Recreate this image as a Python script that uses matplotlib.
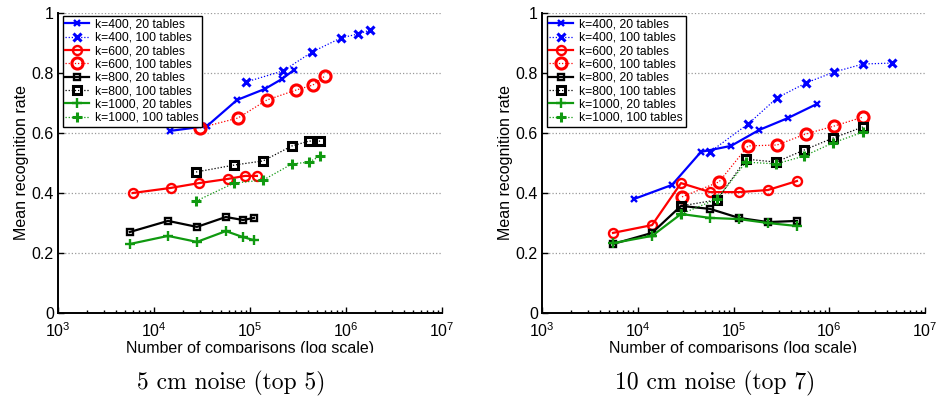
import matplotlib
matplotlib.use("Agg")
from matplotlib import pyplot as plt
from matplotlib.patches import Rectangle
from matplotlib.ticker import LogLocator, NullFormatter

plt.rcParams['font.family'] = ['Liberation Sans', 'DejaVu Sans']

# 5 cm noise (top 5)
l400_20_x = [1.47e4, 3.56e4, 7.32e4, 1.43e5, 2.15e5, 2.87e5]
l400_20_y = [0.607, 0.623, 0.71, 0.747, 0.78, 0.81]
l400_100_x = [9.08e4, 2.21e5, 4.43e5, 8.87e5, 1.33e6, 1.78e6]
l400_100_y = [0.77, 0.807, 0.87, 0.917, 0.93, 0.943]
l600_20_x = [6.0e3, 1.5e4, 2.94e4, 5.9e4, 8.87e4, 1.18e5]
l600_20_y = [0.40, 0.417, 0.433, 0.447, 0.457, 0.457]
l600_100_x = [3.01e4, 7.5e4, 1.5e5, 3.01e5, 4.53e5, 6.03e5]
l600_100_y = [0.617, 0.65, 0.71, 0.743, 0.76, 0.79]
l800_20_x = [5.6e3, 1.4e4, 2.8e4, 5.6e4, 8.45e4, 1.1e5]
l800_20_y = [0.27, 0.307, 0.287, 0.32, 0.31, 0.317]
l800_100_x = [2.74e4, 6.81e4, 1.37e5, 2.74e5, 4.12e5, 5.37e5]
l800_100_y = [0.47, 0.493, 0.507, 0.557, 0.573, 0.573]
l1000_20_x = [5.6e3, 1.4e4, 2.8e4, 5.6e4, 8.45e4, 1.1e5]
l1000_20_y = [0.23, 0.257, 0.237, 0.273, 0.253, 0.243]
l1000_100_x = [2.74e4, 6.81e4, 1.37e5, 2.74e5, 4.12e5, 5.37e5]
l1000_100_y = [0.373, 0.433, 0.443, 0.497, 0.503, 0.523]

# 10 cm noise (top 7)
r400_20_x = [9.14e3, 2.28e4, 4.57e4, 9.42e4, 1.85e5, 3.71e5, 7.45e5]
r400_20_y = [0.38, 0.427, 0.537, 0.557, 0.61, 0.65, 0.697]
r400_100_x = [5.69e4, 1.42e5, 2.85e5, 5.72e5, 1.12e6, 2.25e6, 4.52e6]
r400_100_y = [0.537, 0.63, 0.717, 0.767, 0.803, 0.83, 0.833]
r600_20_x = [5.52e3, 1.41e4, 2.83e4, 5.69e4, 1.14e5, 2.29e5, 4.6e5]
r600_20_y = [0.267, 0.293, 0.433, 0.403, 0.403, 0.41, 0.44]
r600_100_x = [2.9e4, 7.06e4, 1.42e5, 2.85e5, 5.72e5, 1.12e6, 2.25e6]
r600_100_y = [0.387, 0.437, 0.557, 0.56, 0.597, 0.623, 0.653]
r800_20_x = [5.52e3, 1.41e4, 2.83e4, 5.69e4, 1.14e5, 2.29e5, 4.6e5]
r800_20_y = [0.23, 0.267, 0.357, 0.347, 0.317, 0.303, 0.307]
r800_100_x = [2.83e4, 6.73e4, 1.35e5, 2.78e5, 5.45e5, 1.09e6, 2.25e6]
r800_100_y = [0.357, 0.377, 0.513, 0.503, 0.543, 0.583, 0.62]
r1000_20_x = [5.52e3, 1.41e4, 2.83e4, 5.69e4, 1.14e5, 2.29e5, 4.6e5]
r1000_20_y = [0.233, 0.257, 0.33, 0.317, 0.313, 0.30, 0.29]
r1000_100_x = [2.83e4, 6.73e4, 1.35e5, 2.78e5, 5.45e5, 1.09e6, 2.25e6]
r1000_100_y = [0.33, 0.38, 0.503, 0.497, 0.523, 0.567, 0.603]

labels = ["k=400, 20 tables", "k=400, 100 tables",
          "k=600, 20 tables", "k=600, 100 tables",
          "k=800, 20 tables", "k=800, 100 tables",
          "k=1000, 20 tables", "k=1000, 100 tables"]
yticks = [0, 0.2, 0.4, 0.6, 0.8, 1]
ytick_labels = ["0", "0.2", "0.4", "0.6", "0.8", "1"]
captions = ["5 cm noise (top 5)", "10 cm noise (top 7)"]

green = "#109910"
# colour, marker, size for 20 tables, size for 100 tables
styles = [("blue", "x", 5, 6), ("red", "o", 6.5, 8),
          ("black", "s", 5, 5.5), (green, "+", 7, 7)]


def draw(ax, series):
    for i, (xs, ys) in enumerate(series):
        color, marker, s20, s100 = styles[i // 2]
        if i % 2 == 0:
            ax.plot(xs, ys, color=color, lw=1.6, marker=marker, ms=s20,
                    mew=1.7, mfc="none", label=labels[i])
        else:
            ax.plot(xs, ys, color=color, lw=0.9, ls=(0, (1, 1.5)), marker=marker,
                    ms=s100, mew=2.2, mfc="none", label=labels[i])
    ax.set_xscale("log")
    ax.set_xlim(1e3, 1e7)
    ax.set_ylim(0, 1)
    ax.set_yticks(yticks)
    ax.set_yticklabels(ytick_labels)
    ax.xaxis.set_minor_locator(LogLocator(base=10, subs=range(2, 10)))
    ax.xaxis.set_minor_formatter(NullFormatter())
    ax.yaxis.grid(True, ls=":", color="#9a9a9a", lw=0.9)
    ax.spines["top"].set_visible(False)
    ax.spines["right"].set_visible(False)
    ax.spines["left"].set_linewidth(1.4)
    ax.spines["bottom"].set_linewidth(1.4)
    ax.tick_params(which="both", direction="in", labelsize=11.5, width=1)
    ax.tick_params(which="major", length=4)
    ax.tick_params(which="minor", length=2.5)
    ax.tick_params(axis="x", which="major", pad=6)
    ax.tick_params(axis="y", which="major", pad=3)
    ax.set_xlabel("Number of comparisons (log scale)", fontsize=11.5, labelpad=1)
    ax.set_ylabel("Mean recognition rate", fontsize=11.5, labelpad=2)
    leg = ax.legend(loc="upper left", bbox_to_anchor=(0.012, 0.99),
                    borderaxespad=0, fontsize=8.7, fancybox=False,
                    framealpha=1, edgecolor="black", borderpad=0.22,
                    labelspacing=0.11, handlelength=2.0, handletextpad=0.5)
    leg.get_frame().set_linewidth(1.0)


fig = plt.figure(figsize=(9.39, 4.03), dpi=100)
ax1 = fig.add_axes([58 / 939, 90 / 403, 384 / 939, 300 / 403])
ax2 = fig.add_axes([542 / 939, 90 / 403, 383 / 939, 300 / 403])

draw(ax1, [(l400_20_x, l400_20_y), (l400_100_x, l400_100_y),
           (l600_20_x, l600_20_y), (l600_100_x, l600_100_y),
           (l800_20_x, l800_20_y), (l800_100_x, l800_100_y),
           (l1000_20_x, l1000_20_y), (l1000_100_x, l1000_100_y)])
draw(ax2, [(r400_20_x, r400_20_y), (r400_100_x, r400_100_y),
           (r600_20_x, r600_20_y), (r600_100_x, r600_100_y),
           (r800_20_x, r800_20_y), (r800_100_x, r800_100_y),
           (r1000_20_x, r1000_20_y), (r1000_100_x, r1000_100_y)])

# the sub-figures are cropped just under the x label
fig.patches.append(Rectangle((0, 35 / 403), 1, 15 / 403, transform=fig.transFigure,
                             color="white", zorder=5))

fig.text(231 / 939, 14 / 403, captions[0], family="cmr10", fontsize=17,
         ha="center", va="baseline")
fig.text(715 / 939, 14 / 403, captions[1], family="cmr10", fontsize=17,
         ha="center", va="baseline")

fig.savefig("out.png", dpi=100)
